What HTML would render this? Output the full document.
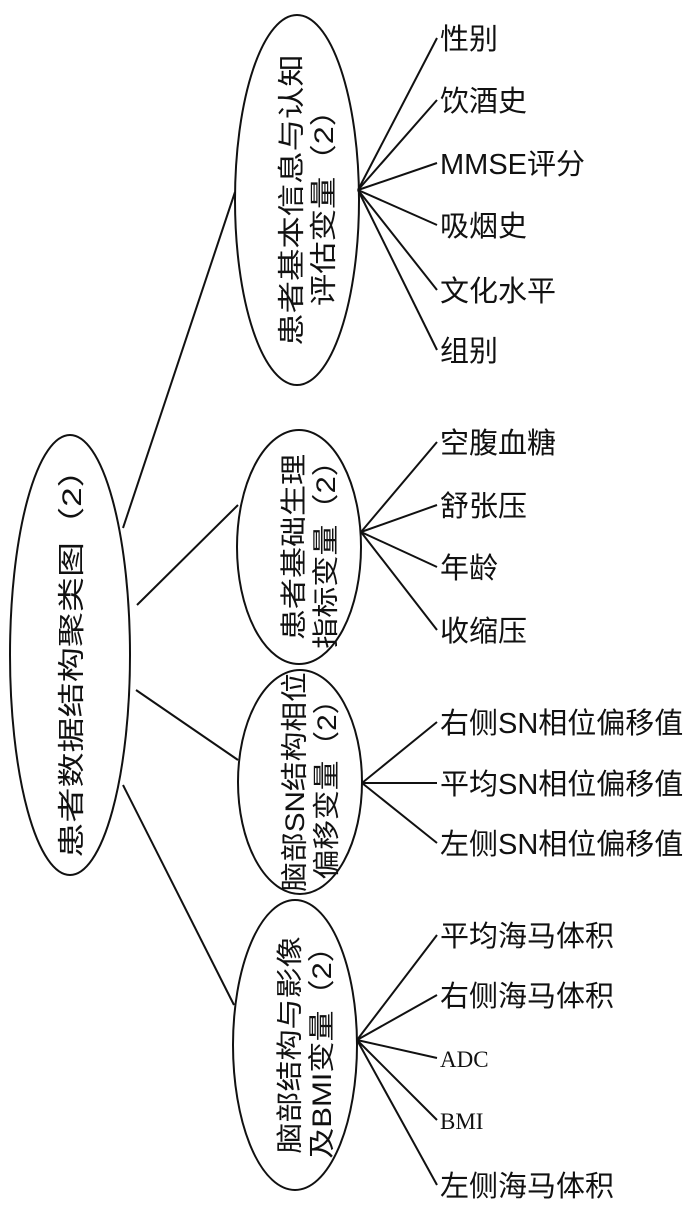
<!DOCTYPE html>
<html><head><meta charset="utf-8"><style>
html,body{margin:0;padding:0;background:#fff;}
svg{display:block;}
text{font-family:"Liberation Sans","Noto Sans CJK SC",sans-serif;fill:#111;}
.l{font-size:29px;}
.e{font-size:27px;}
</style></head><body>
<svg width="700" height="1207" viewBox="0 0 700 1207">
<g fill="none" stroke="#111" stroke-width="2">
<ellipse cx="70" cy="655" rx="60" ry="220"/>
<ellipse cx="297" cy="200" rx="62" ry="185"/>
<ellipse cx="299" cy="547" rx="62" ry="117"/>
<ellipse cx="300" cy="782" rx="62" ry="112"/>
<ellipse cx="295" cy="1045" rx="62" ry="145"/>
<line x1="123" y1="528" x2="235" y2="192"/>
<line x1="137" y1="605" x2="238" y2="505"/>
<line x1="136" y1="690" x2="238" y2="760"/>
<line x1="123" y1="785" x2="234" y2="1005"/>
<g>
<line x1="358" y1="190" x2="437" y2="38"/>
<line x1="358" y1="190" x2="437" y2="100"/>
<line x1="358" y1="190" x2="437" y2="163"/>
<line x1="358" y1="190" x2="437" y2="225"/>
<line x1="358" y1="190" x2="437" y2="290"/>
<line x1="358" y1="190" x2="437" y2="350"/>
</g>
<g>
<line x1="361" y1="532" x2="437" y2="442"/>
<line x1="361" y1="532" x2="437" y2="505"/>
<line x1="361" y1="532" x2="437" y2="567"/>
<line x1="361" y1="532" x2="437" y2="630"/>
</g>
<g>
<line x1="362" y1="783" x2="437" y2="722"/>
<line x1="362" y1="783" x2="437" y2="783"/>
<line x1="362" y1="783" x2="437" y2="843"/>
</g>
<g>
<line x1="357" y1="1040" x2="437" y2="935"/>
<line x1="357" y1="1040" x2="437" y2="995"/>
<line x1="357" y1="1040" x2="437" y2="1058"/>
<line x1="357" y1="1040" x2="437" y2="1120"/>
<line x1="357" y1="1040" x2="437" y2="1185"/>
</g>
</g>
<g class="e" text-anchor="middle">
<text transform="translate(70,655) rotate(-90) scale(1.3,1)" y="11">患者数据结构聚类图（2）</text>
<text transform="translate(297,200) rotate(-90) scale(1.2,1)"><tspan x="0" y="4">患者基本信息与认知</tspan><tspan x="0" y="36">评估变量（2）</tspan></text>
<text transform="translate(299,547) rotate(-90) scale(1.15,1)"><tspan x="0" y="4">患者基础生理</tspan><tspan x="0" y="36">指标变量（2）</tspan></text>
<text transform="translate(300,782) rotate(-90) scale(1.1,1)"><tspan x="0" y="4">脑部SN结构相位</tspan><tspan x="0" y="36">偏移变量（2）</tspan></text>
<text transform="translate(295,1045) rotate(-90) scale(1.15,1)"><tspan x="0" y="4">脑部结构与影像</tspan><tspan x="0" y="36">及BMI变量（2）</tspan></text>
</g>
<g class="l">
<text x="440" y="49">性别</text>
<text x="440" y="111">饮酒史</text>
<text x="440" y="174">MMSE评分</text>
<text x="440" y="236">吸烟史</text>
<text x="440" y="301">文化水平</text>
<text x="440" y="361">组别</text>
<text x="440" y="453">空腹血糖</text>
<text x="440" y="516">舒张压</text>
<text x="440" y="578">年龄</text>
<text x="440" y="641">收缩压</text>
<text x="440" y="733">右侧SN相位偏移值</text>
<text x="440" y="794">平均SN相位偏移值</text>
<text x="440" y="854">左侧SN相位偏移值</text>
<text x="440" y="946">平均海马体积</text>
<text x="440" y="1006">右侧海马体积</text>
<text x="440" y="1067" style="font-family:'Liberation Serif',serif;font-size:23px">ADC</text>
<text x="440" y="1129" style="font-family:'Liberation Serif',serif;font-size:23px">BMI</text>
<text x="440" y="1196">左侧海马体积</text>
</g>
</svg>
</body></html>
